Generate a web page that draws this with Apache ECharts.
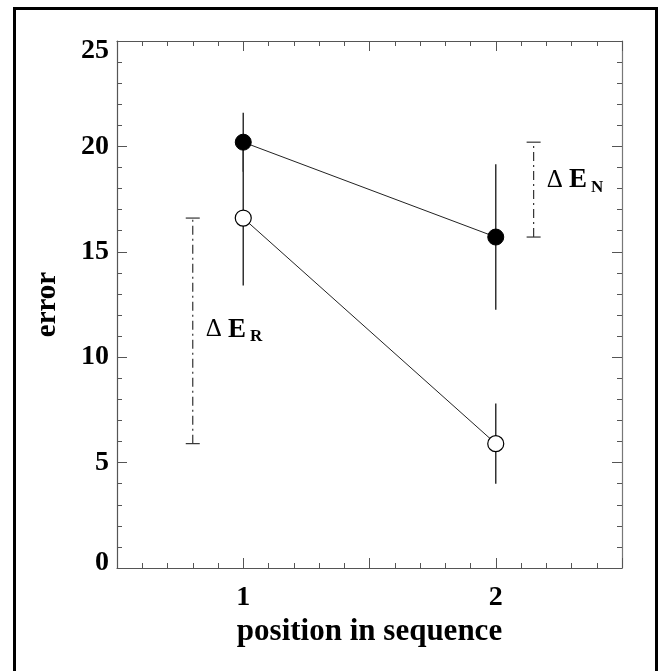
<!DOCTYPE html>
<html><head><meta charset="utf-8">
<script src="https://cdn.jsdelivr.net/npm/echarts@6/dist/echarts.min.js"></script>
<style>html,body{margin:0;padding:0;background:#fff;}#c{width:660px;height:671px;}</style>
</head><body><div id="c"></div>
<script>
// ---- data ----
const positions = [1, 2];
const meanN = [20.2, 15.7];     // filled circles
const errN  = [1.4, 3.45];
const meanR = [16.6, 5.9];      // open circles
const errR  = [3.2, 1.9];
const xLabelValues = [1, 2];
const yMin = 0, yMax = 25, yStep = 5;
const xMin = 0.5, xMax = 2.5, xStep = 0.5;
const deltaNames = ['R', 'N'];
const deltaX = [0.8, 2.15];
const deltaLow  = [meanR[1], meanN[1]];
const deltaHigh = [meanR[0], meanN[0]];
const deltaLabelY = [11.3, 18.4];

const SERIF = '"Liberation Serif", "DejaVu Serif", serif';
const AX = '#555';

const chart = echarts.init(document.getElementById('c'), null, {renderer: 'canvas'});

function errData(mean, err) {
  return positions.map((x, i) => [x, mean[i] - err[i], mean[i] + err[i]]);
}
function errRender(params, api) {
  const x = api.value(0), lo = api.value(1), hi = api.value(2);
  const p1 = api.coord([x, lo]), p2 = api.coord([x, hi]);
  return {type: 'line', shape: {x1: p1[0], y1: p1[1], x2: p2[0], y2: p2[1]},
          style: {stroke: '#333', lineWidth: 1.5}};
}
const bracketData = deltaNames.map((n, i) => [deltaX[i], deltaLow[i], deltaHigh[i], deltaLabelY[i], i]);
function bracketRender(params, api) {
  const x = api.value(0), lo = api.value(1), hi = api.value(2), ly = api.value(3);
  const idx = api.value(4);
  const p1 = api.coord([x, lo]), p2 = api.coord([x, hi]), pl = api.coord([x, ly]);
  const cw = 7;
  return {type: 'group', children: [
    {type: 'line', shape: {x1: p1[0], y1: p1[1], x2: p2[0], y2: p2[1]},
     style: {stroke: '#333', lineWidth: 1.2, lineDash: [9, 4, 2, 4]}},
    {type: 'line', shape: {x1: p1[0] - cw, y1: p1[1], x2: p1[0] + cw, y2: p1[1]},
     style: {stroke: '#333', lineWidth: 1.2}},
    {type: 'line', shape: {x1: p2[0] - cw, y1: p2[1], x2: p2[0] + cw, y2: p2[1]},
     style: {stroke: '#333', lineWidth: 1.2}},
    {type: 'text', x: pl[0] + 13, y: pl[1],
     style: {text: '{d|Δ }{e|E}{s|' + deltaNames[idx] + '}', verticalAlign: 'middle', align: 'left',
       rich: {
         d: {fontFamily: SERIF, fontSize: 25, fill: '#000'},
         e: {fontFamily: SERIF, fontSize: 27, fontWeight: 'bold', fill: '#000'},
         s: {fontFamily: SERIF, fontSize: 17, fontWeight: 'bold', fill: '#000', padding: [14, 0, 0, 4]}
       }}}
  ]};
}

const option = {
  animation: false,
  backgroundColor: '#fff',
  grid: {left: 117, right: 38, top: 41, bottom: 103},
  graphic: [{type: 'rect', shape: {x: 14.5, y: 8.5, width: 642, height: 670},
             style: {fill: 'none', stroke: '#000', lineWidth: 3}, z: 100}],
  xAxis: [{
    type: 'value', min: xMin, max: xMax, interval: xStep,
    name: 'position in sequence', nameLocation: 'middle', nameGap: 36,
    nameTextStyle: {fontFamily: SERIF, fontSize: 31, fontWeight: 'bold', color: '#000'},
    axisLine: {show: true, lineStyle: {color: AX, width: 1.2}},
    axisTick: {show: true, inside: true, length: 10, lineStyle: {color: AX}},
    minorTick: {show: true, splitNumber: 5, length: 5, lineStyle: {color: AX}},
    splitLine: {show: false}, minorSplitLine: {show: false},
    axisLabel: {margin: 16, fontFamily: SERIF, fontSize: 28, fontWeight: 'bold', color: '#000',
      formatter: v => xLabelValues.indexOf(v) >= 0 ? String(v) : ''}
  }, {
    type: 'value', position: 'top', min: xMin, max: xMax, interval: xStep,
    axisLine: {show: true, onZero: false, lineStyle: {color: AX, width: 1.2}},
    axisTick: {show: true, inside: true, length: 10, lineStyle: {color: AX}},
    minorTick: {show: true, splitNumber: 5, length: 5, lineStyle: {color: AX}},
    splitLine: {show: false}, axisLabel: {show: false}
  }],
  yAxis: [{
    type: 'value', min: yMin, max: yMax, interval: yStep,
    name: 'error', nameLocation: 'middle', nameGap: 55, nameRotate: 90,
    nameTextStyle: {fontFamily: SERIF, fontSize: 29, fontWeight: 'bold', color: '#000'},
    axisLine: {show: true, lineStyle: {color: AX, width: 1.2}},
    axisTick: {show: true, inside: true, length: 10, lineStyle: {color: AX}},
    minorTick: {show: true, splitNumber: 5, length: 5, lineStyle: {color: AX}},
    splitLine: {show: false},
    axisLabel: {margin: 8, color: '#000',
      formatter: v => v === yMin ? '{lo|' + v + '}' : (v === yMax ? '{hi|' + v + '}' : '{n|' + v + '}'),
      rich: {
        n: {fontFamily: SERIF, fontSize: 28, fontWeight: 'bold', color: '#000'},
        lo: {fontFamily: SERIF, fontSize: 28, fontWeight: 'bold', color: '#000', padding: [0, 0, 10, 0]},
        hi: {fontFamily: SERIF, fontSize: 28, fontWeight: 'bold', color: '#000', padding: [19, 0, 0, 0]}
      }}
  }, {
    type: 'value', position: 'right', min: yMin, max: yMax, interval: yStep,
    axisLine: {show: true, onZero: false, lineStyle: {color: '#777', width: 1.2}},
    axisTick: {show: true, inside: true, length: 10, lineStyle: {color: AX}},
    minorTick: {show: true, splitNumber: 5, length: 5, lineStyle: {color: AX}},
    splitLine: {show: false}, axisLabel: {show: false}
  }],
  series: [
    {type: 'custom', name: 'errR', renderItem: errRender, data: errData(meanR, errR), z: 2, silent: true},
    {type: 'custom', name: 'errN', renderItem: errRender, data: errData(meanN, errN), z: 2, silent: true},
    {type: 'custom', name: 'delta', renderItem: bracketRender, data: bracketData, z: 2, silent: true},
    {type: 'line', name: 'N', data: positions.map((x, i) => [x, meanN[i]]), z: 5,
     symbol: 'circle', symbolSize: 16, lineStyle: {color: '#222', width: 1},
     itemStyle: {color: '#000', borderColor: '#000', borderWidth: 1}},
    {type: 'line', name: 'R', data: positions.map((x, i) => [x, meanR[i]]), z: 5,
     symbol: 'circle', symbolSize: 16, lineStyle: {color: '#222', width: 1},
     itemStyle: {color: '#fff', borderColor: '#000', borderWidth: 1.2}}
  ]
};
chart.setOption(option);
</script></body></html>
